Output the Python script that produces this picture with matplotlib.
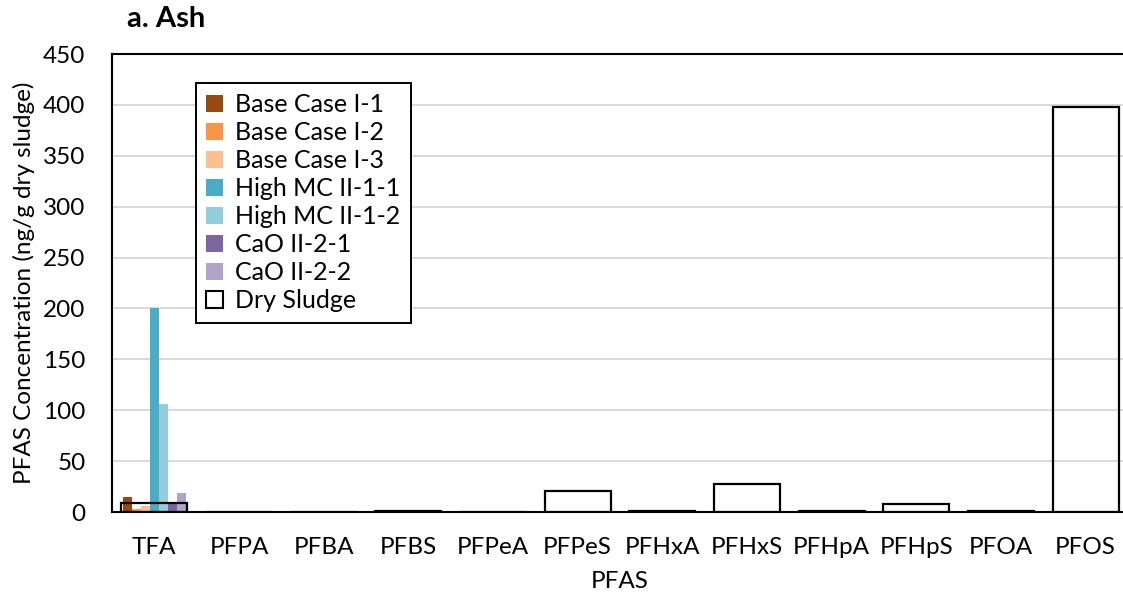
import numpy as np
import matplotlib.pyplot as plt
from matplotlib.patches import Patch

plt.rcParams['font.family'] = ['Lato', 'DejaVu Sans']

# PFAS compounds on the x axis
compounds = ['TFA', 'PFPA', 'PFBA', 'PFBS', 'PFPeA', 'PFPeS',
             'PFHxA', 'PFHxS', 'PFHpA', 'PFHpS', 'PFOA', 'PFOS']

# ash concentrations (ng/g dry sludge) for each run
base_i1 = [14.7, 0, 0, 0, 0, 0, 0, 0, 0, 0, 0, 0]
base_i2 = [3.0, 0, 0, 0, 0, 0, 0, 0, 0, 0, 0, 0]
base_i3 = [6.2, 0, 0, 0, 0, 0, 0, 0, 0, 0, 0, 0]
high_mc_1 = [200.0, 0, 0, 0, 0, 0, 0, 0, 0, 0, 0, 0]
high_mc_2 = [105.8, 0, 0, 0, 0, 0, 0, 0, 0, 0, 0, 0]
cao_1 = [8.0, 0, 0, 0, 0, 0, 0, 0, 0, 0, 0, 0]
cao_2 = [18.7, 0, 0, 0, 0, 0, 0, 0, 0, 0, 0, 0]

# feed (dry sludge) concentrations
dry_sludge = [9.1, 0, 0, 1.0, 0, 21.0, 1.0, 27.5, 1.0, 7.9, 1.0, 398.0]

runs = [
    ('Base Case I-1', base_i1, '#974a0e'),
    ('Base Case I-2', base_i2, '#f79646'),
    ('Base Case I-3', base_i3, '#fac090'),
    ('High MC II-1-1', high_mc_1, '#4bacc6'),
    ('High MC II-1-2', high_mc_2, '#92cddc'),
    ('CaO II-2-1', cao_1, '#8064a2'),
    ('CaO II-2-2', cao_2, '#b2a2c7'),
]

fig = plt.figure(figsize=(11.23, 6.05), dpi=100)
ax = fig.add_axes([0.0997, 0.1537, 0.9047, 0.757])

x = np.arange(len(compounds))
w = 0.106
for k, (name, vals, col) in enumerate(runs):
    ax.bar(x + (k - 3) * w, vals, width=w, color=col, zorder=2)

# dry sludge drawn as open boxes over each group
ax.bar(x, dry_sludge, width=0.78, facecolor='none', edgecolor='black',
       linewidth=1.6, zorder=3)

ax.set_xlim(-0.5, len(compounds) - 0.5)
ax.set_ylim(0, 450)
ax.set_yticks(np.arange(0, 451, 50))
ax.set_xticks(x)
ax.set_xticklabels(compounds)
ax.yaxis.grid(True, color='#d9d9d9', linewidth=1.4, zorder=0)
ax.set_axisbelow(True)
ax.tick_params(axis='both', length=0, labelsize=17.5, colors='black')
ax.tick_params(axis='x', pad=18)
ax.tick_params(axis='y', pad=19)
for s in ax.spines.values():
    s.set_color('black')
    s.set_linewidth(1.5)

ax.set_xlabel('PFAS', fontsize=17.5, labelpad=9)
ax.set_ylabel('PFAS Concentration (ng/g dry sludge)', fontsize=17.5, labelpad=6)

handles = [Patch(facecolor=col, edgecolor='none', label=name) for name, _, col in runs]
handles.append(Patch(facecolor='white', edgecolor='black', linewidth=1.5, label='Dry Sludge'))
leg = ax.legend(handles=handles, loc='upper left', bbox_to_anchor=(0.0827, 0.937),
                borderaxespad=0, fontsize=18, frameon=True, fancybox=False,
                handlelength=0.65, handleheight=0.65, handletextpad=0.5,
                labelspacing=0.2, borderpad=0.42)
leg.get_frame().set_edgecolor('black')
leg.get_frame().set_linewidth(1.4)
leg.get_frame().set_alpha(1)

fig.text(127 / 1123, 0.9554, 'a. Ash', fontsize=21, fontweight='bold', va='baseline')
fig.text(127 / 1123, -0.033, 'b. Sand', fontsize=19, fontweight='bold', va='baseline')

fig.savefig('out.png', dpi=100)
